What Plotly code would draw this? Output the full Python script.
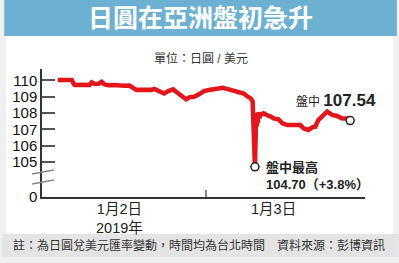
import plotly.graph_objects as go

# ---------------- data (USD/JPY, Taipei time) ----------------
times = [
    "2019-01-02 03:23", "2019-01-02 05:20", "2019-01-02 05:37", "2019-01-02 05:44",
    "2019-01-02 06:43", "2019-01-02 07:49", "2019-01-02 08:06", "2019-01-02 08:31",
    "2019-01-02 09:04", "2019-01-02 09:29", "2019-01-02 09:53", "2019-01-02 10:27",
    "2019-01-02 11:08", "2019-01-02 11:50", "2019-01-02 12:15", "2019-01-02 12:40",
    "2019-01-02 13:21", "2019-01-02 13:38", "2019-01-02 14:19", "2019-01-02 15:01",
    "2019-01-02 15:42", "2019-01-02 16:23", "2019-01-02 16:49", "2019-01-02 17:30",
    "2019-01-02 18:11", "2019-01-02 18:45", "2019-01-02 19:26", "2019-01-02 19:51",
    "2019-01-02 20:32", "2019-01-02 21:14", "2019-01-02 21:39", "2019-01-02 22:20",
    "2019-01-02 23:02", "2019-01-02 23:43",
    "2019-01-03 00:25", "2019-01-03 01:23", "2019-01-03 02:21", "2019-01-03 03:02",
    "2019-01-03 03:44", "2019-01-03 04:34", "2019-01-03 05:16", "2019-01-03 05:49",
    "2019-01-03 06:14", "2019-01-03 06:30", "2019-01-03 06:49", "2019-01-03 06:56",
    "2019-01-03 07:00", "2019-01-03 07:05", "2019-01-03 07:10", "2019-01-03 07:14",
    "2019-01-03 07:19", "2019-01-03 07:28", "2019-01-03 07:36", "2019-01-03 08:01",
    "2019-01-03 08:18", "2019-01-03 08:43", "2019-01-03 08:59", "2019-01-03 09:25",
    "2019-01-03 10:06", "2019-01-03 10:39", "2019-01-03 11:20", "2019-01-03 12:10",
    "2019-01-03 13:08", "2019-01-03 13:34", "2019-01-03 14:15", "2019-01-03 14:48",
    "2019-01-03 15:13", "2019-01-03 15:38", "2019-01-03 16:19", "2019-01-03 16:52",
    "2019-01-03 17:34", "2019-01-03 18:16", "2019-01-03 18:57", "2019-01-03 19:38",
    "2019-01-03 20:04",
]
rates = [
    110.03, 110.02, 109.78, 109.72,
    109.73, 109.72, 109.88, 109.78,
    109.80, 109.92, 109.76, 109.70,
    109.72, 109.68, 109.72, 109.67,
    109.68, 109.62, 109.42, 109.43,
    109.40, 109.42, 109.48, 109.37,
    109.20, 109.35, 109.45, 109.30,
    109.06, 108.84, 108.96, 109.00,
    109.15, 109.35,
    109.41, 109.47, 109.55, 109.47,
    109.37, 109.30, 109.20, 109.00,
    108.90, 108.70, 104.70, 106.90,
    107.90, 107.20, 108.00, 107.40,
    108.05, 107.70, 107.90, 107.98,
    107.88, 107.82, 107.80, 107.67,
    107.61, 107.37, 107.26, 107.28,
    107.26, 107.06, 106.96, 107.12,
    107.16, 107.57, 107.88, 108.08,
    107.88, 107.82, 107.67, 107.67,
    107.54,
]
ytick_vals = [102.85, 105, 106, 107, 108, 109, 110]
ytick_text = ["0", "105", "106", "107", "108", "109", "110"]
day_labels = ["1月2日<br>2019年", "1月3日"]
day_label_pos = ["2019-01-02 12:00", "2019-01-03 09:25"]
day_boundary = "2019-01-03 00:00"
low_change = "（+3.8%）"

title = "日圓在亞洲盤初急升"
unit = "單位：日圓 / 美元"
footer = "註：為日圓兌美元匯率變動，時間均為台北時間　資料來源：彭博資訊"

# ---------------- layout geometry ----------------
W, H = 399, 263
L, R, T, B = 40, 34, 69, 66
pw, ph = W - L - R, H - T - B


def px(x):
    return (x - L) / pw


def py(y):
    return (H - B - y) / ph


FONT = "Liberation Sans, Arial, Noto Sans CJK TC, sans-serif"
RED = "#e3161c"

low_i = min(range(len(rates)), key=lambda i: rates[i])
last_i = len(rates) - 1

fig = go.Figure()
fig.add_trace(go.Scatter(
    x=times, y=rates, mode="lines",
    line=dict(color=RED, width=4.5, shape="linear"),
    hoverinfo="skip", showlegend=False,
))
fig.add_trace(go.Scatter(
    x=[times[low_i], times[last_i]], y=[rates[low_i], rates[last_i]],
    mode="markers",
    marker=dict(size=8, color="white", line=dict(color="#222", width=1.5)),
    hoverinfo="skip", showlegend=False,
))

shapes = [
    # white panel
    dict(type="rect", xref="paper", yref="paper", x0=px(4), x1=px(393), y0=py(234), y1=py(36),
         fillcolor="white", line=dict(width=0), layer="below"),
    # footer band
    dict(type="rect", xref="paper", yref="paper", x0=px(0), x1=px(399), y0=py(257), y1=py(234),
         fillcolor="#e4e4e4", line=dict(width=0), layer="below"),
    # title bar
    dict(type="rect", xref="paper", yref="paper", x0=px(2), x1=px(397), y0=py(36), y1=py(0),
         fillcolor="#6cb0d2", line=dict(width=0), layer="below"),
    # axis break marks
    dict(type="line", xref="paper", yref="paper", x0=px(30), x1=px(52), y0=py(174), y1=py(170),
         line=dict(color="#888", width=1.5)),
    dict(type="line", xref="paper", yref="paper", x0=px(30), x1=px(52), y0=py(184), y1=py(180),
         line=dict(color="#888", width=1.5)),
    # day boundary tick
    dict(type="line", xref="x", yref="paper", x0=day_boundary, x1=day_boundary, y0=0, y1=7 / ph,
         line=dict(color="#333", width=1.2)),
]

annotations = [
    dict(text=f"<b>{title}</b>", xref="paper", yref="paper", x=px(199), y=py(18),
         showarrow=False, font=dict(family=FONT, size=25, color="white"),
         xanchor="center", yanchor="middle"),
    dict(text=unit, xref="paper", yref="paper", x=px(200), y=py(58),
         showarrow=False, font=dict(family=FONT, size=12, color="#333"),
         xanchor="center", yanchor="middle"),
    dict(text=footer, xref="paper", yref="paper", x=px(198), y=py(245),
         showarrow=False, font=dict(family=FONT, size=12, color="#333"),
         xanchor="center", yanchor="middle"),
    dict(text=f"盤中 <b><span style='font-size:17px'>{rates[last_i]:.2f}</span></b>",
         x=times[last_i], y=rates[last_i], xref="x", yref="y", showarrow=False,
         xanchor="center", yanchor="middle", xshift=-14, yshift=20,
         font=dict(family=FONT, size=12, color="#222")),
    dict(text=f"<b>盤中最高<br>{rates[low_i]:.2f}{low_change}</b>",
         x=times[low_i], y=rates[low_i], xref="x", yref="y", showarrow=False,
         xanchor="left", yanchor="top", align="left", xshift=9, yshift=9,
         font=dict(family=FONT, size=13, color="#222")),
]
for lab, pos in zip(day_labels, day_label_pos):
    annotations.append(dict(text=lab, x=pos, xref="x", yref="paper", y=py(199),
                            showarrow=False, xanchor="center", yanchor="top",
                            font=dict(family=FONT, size=14.5, color="#222")))

fig.update_layout(
    width=W, height=H, margin=dict(l=L, r=R, t=T, b=B, pad=0),
    paper_bgcolor="#f0f0f0", plot_bgcolor="rgba(0,0,0,0)",
    shapes=shapes, annotations=annotations,
    xaxis=dict(type="date", range=["2019-01-02 01:11", "2019-01-03 22:08"],
               showgrid=False, zeroline=False, showline=True, linecolor="#333", linewidth=1.5,
               showticklabels=False, ticks=""),
    yaxis=dict(range=[102.85, 110.7], tickvals=ytick_vals, ticktext=ytick_text,
               showgrid=False, zeroline=False, showline=True, linecolor="#333", linewidth=1.5,
               ticks="inside", ticklen=13, tickcolor="#555", tickwidth=1.5,
               tickfont=dict(family=FONT, size=15, color="#111")),
    font=dict(family=FONT),
)

fig.write_html("out.html")
